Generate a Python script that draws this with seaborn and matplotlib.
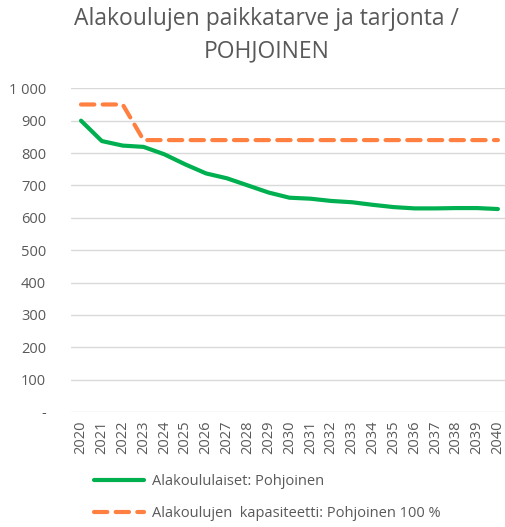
import matplotlib.pyplot as plt
import matplotlib.ticker as mticker
import numpy as np
import pandas as pd
import seaborn as sns

years = list(range(2020, 2041))
oppilaat = [900, 837, 823, 819, 796, 765, 737, 722, 700, 678, 662,
            659, 652, 648, 640, 633, 629, 629, 630, 630, 627]
kapasiteetti = [950, 950, 950, 840, 840, 840, 840, 840, 840, 840, 840,
                840, 840, 840, 840, 840, 840, 840, 840, 840, 840]
label_opp = 'Alakoululaiset: Pohjoinen'
label_kap = 'Alakoulujen  kapasiteetti: Pohjoinen 100 %'

df = pd.DataFrame({'vuosi': years, 'opp': oppilaat, 'kap': kapasiteetti})

sns.set_style('white')
plt.rcParams['font.family'] = ['Open Sans', 'DejaVu Sans']
grey = '#595959'

fig = plt.figure(figsize=(5.05, 5.27), dpi=100)
ax = fig.add_axes([71/505, 1-412/527, 1-71/505, (412-88.3)/527])

sns.lineplot(data=df, x='vuosi', y='opp', ax=ax, color='#00b050',
             linewidth=3, label=label_opp, legend=False)
sns.lineplot(data=df, x='vuosi', y='kap', ax=ax, color='#ff8040',
             linewidth=3, dashes=False, label=label_kap, legend=False)
ax.lines[1].set_dashes([3.2, 2.0])
ax.lines[1].set_dash_capstyle('round')
ax.lines[0].set_solid_capstyle('round')

ax.set_ylim(0, 1000)
ax.set_xlim(2019.52, 2040.34)
ax.set_yticks(range(0, 1001, 100))
ax.set_xticks(years)
ax.set_xticklabels([str(y) for y in years], rotation=90)

def fmt(v, pos):
    if v == 0:
        return '-'
    return f'{int(v):,}'.replace(',', ' ')

ax.yaxis.set_major_formatter(mticker.FuncFormatter(fmt))
ax.tick_params(axis='both', colors=grey, labelsize=10.5, length=0)
ax.tick_params(axis='y', pad=18)
ax.tick_params(axis='x', pad=6)
ax.grid(axis='y', color='#d9d9d9', linewidth=1)
ax.set_axisbelow(True)
for s in ax.spines.values():
    s.set_visible(False)
ax.set_xlabel('')
ax.set_ylabel('')

fig.text(0.528, 1-7/527, 'Alakoulujen paikkatarve ja tarjonta /\nPOHJOINEN',
         ha='center', va='top', fontsize=16.5, color=grey, linespacing=1.45)

h, l = ax.get_legend_handles_labels()
fig.legend(h, l, loc='upper left', bbox_to_anchor=(94/505, 1-474/527),
           frameon=False, fontsize=10.5, handlelength=3.4, labelspacing=1.15,
           borderpad=0, borderaxespad=0, handletextpad=0.6,
           labelcolor=grey)

fig.savefig('out.png', dpi=100)
